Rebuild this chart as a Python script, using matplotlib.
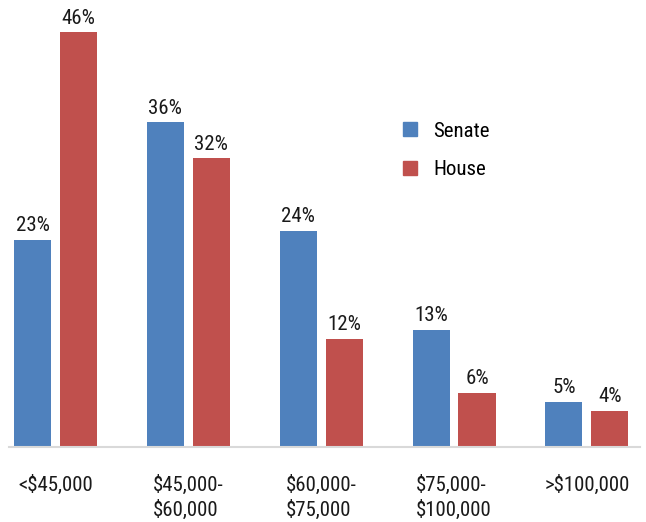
import numpy as np
import matplotlib.pyplot as plt
from matplotlib.patches import Patch

categories = ['<$45,000', '$45,000-\n$60,000', '$60,000-\n$75,000', '$75,000-\n$100,000', '>$100,000']
senate = [23, 36, 24, 13, 5]
house = [46, 32, 12, 6, 4]

blue = '#4F81BD'
red = '#C0504D'

plt.rcParams['font.family'] = ['Roboto Condensed', 'DejaVu Sans']

fig = plt.figure(figsize=(6.46, 5.22), dpi=100)
ax = fig.add_axes([9/646, 75/522, 631/646, 433/522])

x = np.arange(len(categories))
w = 0.279
off = 0.173
b1 = ax.bar(x - off, senate, w, color=blue)
b2 = ax.bar(x + off, house, w, color=red)

for bars, vals in ((b1, senate), (b2, house)):
    for b, v in zip(bars, vals):
        ax.text(b.get_x() + b.get_width()/2, v + 0.5, f'{v}%', ha='center', va='bottom',
                fontsize=15, color='#1a1a1a')

ax.set_xlim(-0.35, 4.40)
ax.set_ylim(0, 48)
ax.set_yticks([])
ax.set_xticks(x)
ax.set_xticklabels(categories, fontsize=15, color='#1a1a1a', multialignment='left',
                   linespacing=1.3)
ax.tick_params(axis='x', length=0, pad=20)
for s in ['top', 'right', 'left']:
    ax.spines[s].set_visible(False)
ax.spines['bottom'].set_color('#d9d9d9')
ax.spines['bottom'].set_linewidth(1.5)

handles = [Patch(color=blue, label='Senate'), Patch(color=red, label='House')]
ax.legend(handles=handles, loc='upper left', bbox_to_anchor=(0.595, 0.795), frameon=False,
          fontsize=15, handlelength=0.65, handleheight=0.65, labelspacing=0.95, handletextpad=0.8)

fig.savefig('out.png', dpi=100)
